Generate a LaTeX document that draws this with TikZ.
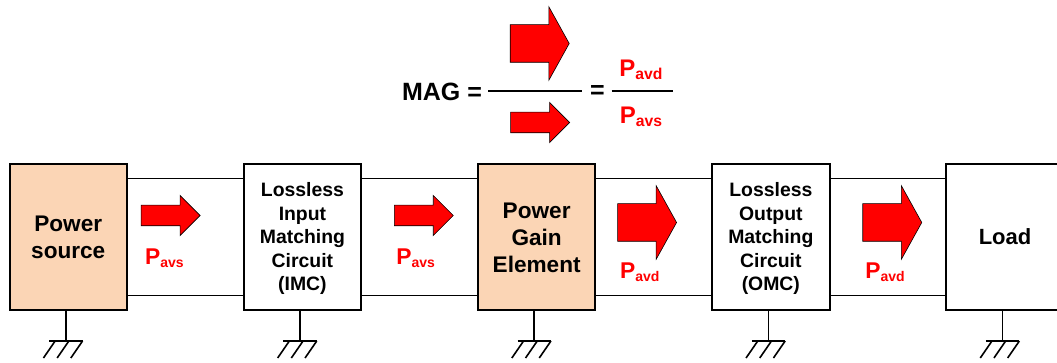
\documentclass[tikz,border=0pt]{standalone}
\usepackage{fontspec}
\setmainfont{Liberation Sans}
\usetikzlibrary{shapes.arrows}
\definecolor{peach}{HTML}{FBD5B5}
\newcommand{\pwr}[3]{{\fontsize{#1}{#1}\selectfont P}\raisebox{-3pt}{\fontsize{#2}{#2}\selectfont #3}}
\newcommand{\dropline}[1]{\rule{0pt}{#1}}
\tikzstyle{block} = [rectangle, minimum width=117.5pt, minimum height=146pt, inner sep=0pt, align=center, draw=black, line width=2pt, font=\fontsize{19.4}{23.5}\selectfont\bfseries]
\tikzstyle{source} = [block, fill=peach, font=\fontsize{22.6}{27}\selectfont\bfseries]
\tikzstyle{wire} = [line width=1.6pt]
\tikzstyle{rule} = [line width=1.5pt]
\tikzstyle{flow} = [single arrow, draw=black, line width=0.6pt, fill=red, inner sep=0pt, minimum height=59pt]
\tikzstyle{smallflow} = [flow, text height=10pt, text depth=10pt, single arrow head extend=9.75pt, single arrow tip angle=90]
\tikzstyle{bigflow} = [flow, text height=18.5pt, text depth=18.5pt, single arrow head extend=18pt, single arrow tip angle=122]
\tikzstyle{pwrtext} = [inner sep=0pt, text=red, font=\bfseries]
\tikzstyle{eqtext} = [inner sep=0pt, font=\fontsize{25}{25}\selectfont\bfseries]
\tikzset{gnd/.pic={
  \draw [wire] (-16.7pt,0) -- (16.7pt,0);
  \draw [wire] (-10.7pt,0) -- (-22.4pt,-17pt);
  \draw [wire] (3pt,0) -- (-8.7pt,-17pt);
  \draw [wire] (16.7pt,0) -- (5pt,-17pt);
}}

\begin{document}
\begin{tikzpicture}[node distance=234.2pt]
\useasboundingbox (0,0) rectangle (1057pt,-363pt);

\node (source) [source] at (68.25pt,-237pt) {Power\\source};
\node (imc) [block, right of=source] {\dropline{18pt}Lossless\\Input\\Matching\\Circuit\\(IMC)};
\node (gain) [source, right of=imc] {\dropline{18pt}Power\\Gain\\Element};
\node (omc) [block, right of=gain] {\dropline{18pt}Lossless\\Output\\Matching\\Circuit\\(OMC)};
\node (load) [block, right of=omc, font=\fontsize{22}{27}\selectfont\bfseries] {Load};

\draw [wire] ([yshift=58.5pt]source.east) -- ([yshift=58.5pt]imc.west);
\draw [wire] ([yshift=-58.5pt]source.east) -- ([yshift=-58.5pt]imc.west);
\draw [wire] ([yshift=58.5pt]imc.east) -- ([yshift=58.5pt]gain.west);
\draw [wire] ([yshift=-58.5pt]imc.east) -- ([yshift=-58.5pt]gain.west);
\draw [wire] ([yshift=58.5pt]gain.east) -- ([yshift=58.5pt]omc.west);
\draw [wire] ([yshift=-58.5pt]gain.east) -- ([yshift=-58.5pt]omc.west);
\draw [wire] ([yshift=58.5pt]omc.east) -- ([yshift=58.5pt]load.west);
\draw [wire] ([yshift=-58.5pt]omc.east) -- ([yshift=-58.5pt]load.west);

% grounds
\draw [wire] ([xshift=-2.4pt]source.south) -- ++(0,-30pt) pic {gnd};
\draw [wire] ([xshift=-2.4pt]imc.south) -- ++(0,-30pt) pic {gnd};
\draw [wire] ([xshift=-2.4pt]gain.south) -- ++(0,-30pt) pic {gnd};
\draw [wire] ([xshift=-2.4pt]omc.south) -- ++(0,-30pt) pic {gnd};
\draw [wire] ([xshift=-2.4pt]load.south) -- ++(0,-30pt) pic {gnd};

% power arrows
\node (flowa) [smallflow, right of=source, xshift=-137pt, yshift=21.5pt] {};
\node (flowb) [smallflow, right of=imc, xshift=-118pt, yshift=21.5pt] {};
\node (flowc) [bigflow, right of=gain, xshift=-129pt, yshift=14.5pt] {};
\node (flowd) [bigflow, right of=omc, xshift=-118pt, yshift=14.5pt] {};
\node (pwra) [pwrtext, below of=flowa, node distance=43pt, xshift=-1pt] {\pwr{22.8}{14}{avs}};
\node (pwrb) [pwrtext, below of=flowb, node distance=43pt, xshift=-3pt] {\pwr{22.8}{14}{avs}};
\node (pwrc) [pwrtext, below of=flowc, node distance=50pt, xshift=-2pt] {\pwr{22.8}{14}{avd}};
\node (pwrd) [pwrtext, below of=flowd, node distance=50pt, xshift=-2pt] {\pwr{22.8}{14}{avd}};

% formula
\node (mag) [eqtext] at (442pt,-92pt) {MAG =};
\node (eq) [eqtext] at (597.5pt,-92pt) {=};
\coordinate (rulea) at (488pt,-91pt);
\coordinate (ruleb) at (582pt,-91pt);
\coordinate (rulec) at (611.7pt,-91pt);
\coordinate (ruled) at (672.7pt,-91pt);
\draw [rule] (rulea) -- (ruleb);
\draw [rule] (rulec) -- (ruled);
\node (topflow) [bigflow] at (534.5pt,-43.5pt) {};
\node (botflow) [smallflow] at (535pt,-122.5pt) {};
\node (pavd) [pwrtext] at (641pt,-70pt) {\pwr{24}{15.7}{avd}};
\node (pavs) [pwrtext] at (641pt,-117pt) {\pwr{24}{15.7}{avs}};
\end{tikzpicture}
\end{document}
